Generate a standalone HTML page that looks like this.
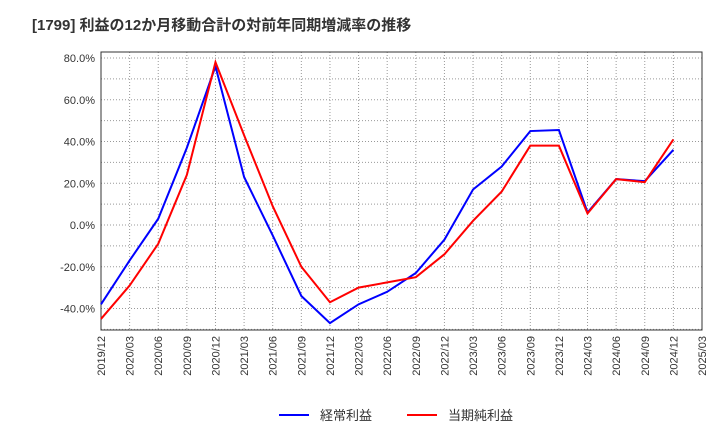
<!DOCTYPE html>
<html><head><meta charset="utf-8"><style>
body{margin:0;background:#fff;font-family:"Liberation Sans","Noto Sans CJK JP",sans-serif}
</style></head><body>
<svg width="720" height="440" xmlns="http://www.w3.org/2000/svg">
<text x="32" y="30" font-size="15" font-weight="bold" fill="#333" font-family="Liberation Sans, Noto Sans CJK JP, sans-serif">[1799]  利益の12か月移動合計の対前年同期増減率の推移</text>
<g id="grid"></g><g id="axes"></g><g id="series"></g>
<g>
<line x1="279" y1="415" x2="309" y2="415" stroke="#0000ff" stroke-width="2"/>
<text x="320" y="420" font-size="13" fill="#333">経常利益</text>
<line x1="407" y1="415" x2="437" y2="415" stroke="#ff0000" stroke-width="2"/>
<text x="448" y="420" font-size="13" fill="#333">当期純利益</text>
</g>
</svg>
<script>
const xLabels=["2019/12","2020/03","2020/06","2020/09","2020/12","2021/03","2021/06","2021/09","2021/12","2022/03","2022/06","2022/09","2022/12","2023/03","2023/06","2023/09","2023/12","2024/03","2024/06","2024/09","2024/12","2025/03"];
const yTicks=[80,60,40,20,0,-20,-40];
const ordinaryProfit=[-38,-17,3,37,76,23,-5,-34,-47,-38,-32,-23,-7,17,28,45,45.5,6,22,21,36];
const netProfit=[-45,-29,-9,24,78,43,9,-20,-37,-30,-27.5,-25,-14,2,16,38,38,5.5,22,20.5,41];
const NS="http://www.w3.org/2000/svg";
const L=101,R=702,T=52,B=330;
const xs=i=>L+(R-L)*i/(xLabels.length-1);
const ys=v=>225-v*(225-58)/80;
function mk(t,a,p){const e=document.createElementNS(NS,t);for(const k in a)e.setAttribute(k,a[k]);p.appendChild(e);return e;}
const grid=document.getElementById('grid'),axes=document.getElementById('axes'),ser=document.getElementById('series');
xLabels.forEach((lb,i)=>{const x=xs(i);
const g=mk('line',{x1:x,x2:x,y1:T,y2:B,stroke:'#999','stroke-dasharray':'1,2','stroke-width':1},grid);


const t=mk('text',{x:0,y:0,'font-size':11,fill:'#333','text-anchor':'end',transform:`translate(${x+4},${B+6}) rotate(-90)`},axes);
t.textContent=lb;

});
for(let v=-50;v<=80;v+=10){const y=ys(v);
const g=mk('line',{x1:L,x2:R,y1:y,y2:y,stroke:'#999','stroke-dasharray':'1,2','stroke-width':1},grid);

}
yTicks.forEach(v=>{const t=mk('text',{x:L-6,y:ys(v)+4,'font-size':11,fill:'#333','text-anchor':'end'},axes);
t.textContent=v.toFixed(1)+'%';

});
const fr=mk('rect',{x:L,y:T,width:R-L,height:B-T,fill:'none',stroke:'#333'},axes);


function line(d,c,n){const p=mk('polyline',{points:d.map((v,i)=>xs(i)+','+ys(v)).join(' '),fill:'none',stroke:c,'stroke-width':2},ser);

}
line(ordinaryProfit,'#0000ff','ordinary-profit-line');
line(netProfit,'#ff0000','net-profit-line');
</script>
</body></html>
